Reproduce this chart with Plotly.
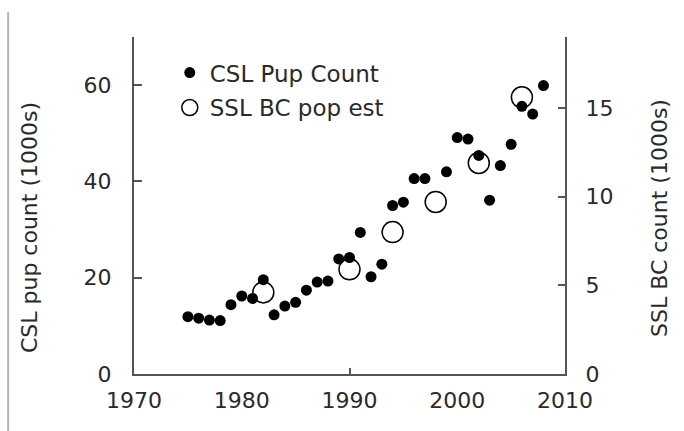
import plotly.graph_objects as go

# California sea lion pup counts (thousands), by survey year
csl_years = [1975, 1976, 1977, 1978, 1979, 1980, 1981, 1982, 1983, 1984,
             1985, 1986, 1987, 1988, 1989, 1990, 1991, 1992, 1993, 1994,
             1995, 1996, 1997, 1999, 2000, 2001, 2002, 2003, 2004, 2005,
             2006, 2007, 2008]
csl_pups = [11.9, 11.6, 11.2, 11.1, 14.4, 16.2, 15.7, 19.6, 12.3, 14.1,
            14.9, 17.4, 19.1, 19.3, 23.9, 24.2, 29.4, 20.2, 22.8, 35.0,
            35.7, 40.6, 40.6, 42.0, 49.1, 48.8, 45.4, 36.1, 43.3, 47.7,
            55.6, 54.0, 59.9]

# Steller sea lion British Columbia population estimates (thousands)
ssl_years = [1982, 1990, 1994, 1998, 2002, 2006]
ssl_est = [4.6, 5.9, 8.0, 9.7, 11.9, 15.6]

x_ticks = [1970, 1980, 1990, 2000, 2010]
y_left_ticks = [0, 20, 40, 60]
y_right_ticks = [0, 5, 10, 15]

FONT = "DejaVu Sans, Liberation Sans, Arial, sans-serif"
INK = "#2a2a2a"
AXIS = "#555555"
FS = 22

fig = go.Figure()

fig.add_trace(go.Scatter(
    x=csl_years, y=csl_pups, mode="markers", name="CSL Pup Count",
    legendgroup="csl",
    marker=dict(symbol="circle", size=11, color="black"),
    xaxis="x", yaxis="y",
))
fig.add_trace(go.Scatter(
    x=ssl_years, y=ssl_est, mode="markers", name="SSL BC pop est",
    legendgroup="ssl",
    marker=dict(symbol="circle-open", size=21, color="black",
                line=dict(width=1.5, color="black")),
    xaxis="x2", yaxis="y2",
))

fig.update_layout(
    width=684, height=431,
    margin=dict(l=134, r=119, t=37, b=57, autoexpand=False),
    paper_bgcolor="white", plot_bgcolor="white",
    font=dict(family=FONT, size=FS, color=INK),
    showlegend=True,
    legend=dict(
        x=0.083, y=0.958, xanchor="left", yanchor="top",
        bgcolor="rgba(0,0,0,0)", borderwidth=0,
        font=dict(family=FONT, size=23, color=INK),
        itemsizing="trace", traceorder="grouped", tracegroupgap=2,
    ),
    xaxis=dict(
        range=[1970, 2010], tickvals=x_ticks, ticks="",
        showline=True, linecolor=AXIS, linewidth=2,
        showgrid=False, zeroline=False, ticklabelstandoff=6,
    ),
    xaxis2=dict(
        range=[1970, 2010], overlaying="x", anchor="y2", side="bottom",
        tickvals=[1990], ticks="inside", ticklen=6, tickwidth=1.5,
        tickcolor=AXIS, showticklabels=False, showline=False,
        showgrid=False, zeroline=False,
    ),
    yaxis=dict(
        range=[0, 70], tickvals=y_left_ticks, ticks="inside",
        ticklen=8, tickwidth=1.5, tickcolor=AXIS,
        showline=True, linecolor=AXIS, linewidth=2,
        showgrid=False, zeroline=False, ticklabelstandoff=16,
    ),
    yaxis2=dict(
        range=[0, 19], tickvals=y_right_ticks, ticks="inside",
        ticklen=7, tickwidth=1.5, tickcolor=AXIS,
        overlaying="y", side="right", anchor="x2",
        showline=True, linecolor=AXIS, linewidth=2,
        showgrid=False, zeroline=False, ticklabelstandoff=14,
    ),
    annotations=[
        dict(text="CSL pup count (1000s)", xref="paper", yref="paper",
             x=-0.2436, y=0.433, xanchor="center", yanchor="middle",
             textangle=-90, showarrow=False,
             font=dict(family=FONT, size=FS, color=INK)),
        dict(text="SSL BC count (1000s)", xref="paper", yref="paper",
             x=1.2204, y=0.463, xanchor="center", yanchor="middle",
             textangle=-90, showarrow=False,
             font=dict(family=FONT, size=FS, color=INK)),
    ],
    shapes=[
        dict(type="line", xref="paper", yref="paper",
             x0=-0.292, x1=-0.292, y0=1.074, y1=-0.2,
             line=dict(color="#b4b4b4", width=2)),
    ],
)

fig.write_html("out.html")
